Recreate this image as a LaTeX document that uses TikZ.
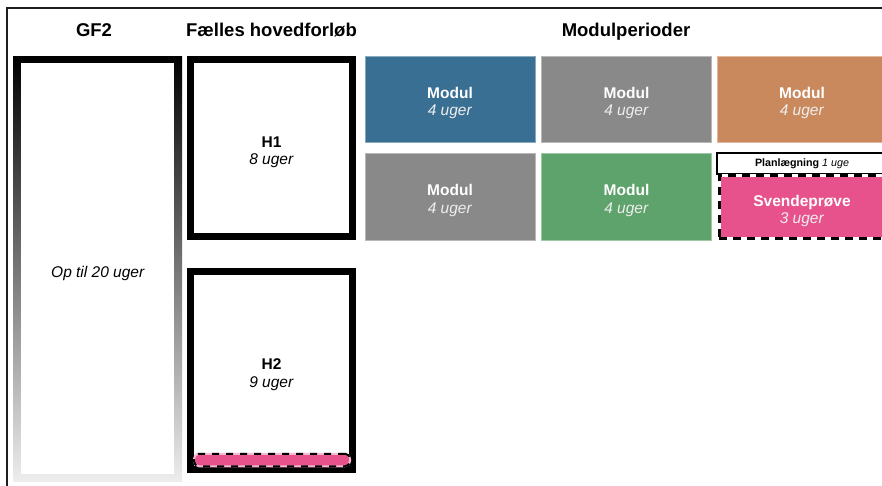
\documentclass[tikz,border=0pt]{standalone}
\usepackage{fontspec}
\setmainfont{Liberation Sans}

\definecolor{modblue}{HTML}{386F92}
\definecolor{modgray}{HTML}{898989}
\definecolor{modtan}{HTML}{C9895D}
\definecolor{modgreen}{HTML}{5EA36B}
\definecolor{svpink}{HTML}{E8528C}
\definecolor{framegray}{HTML}{1E1E1E}
\definecolor{softwhite}{HTML}{EEEEEE}

% taller first line, so the two-line labels sit a little lower in their boxes
\newcommand\boxpad{\rule{0pt}{19pt}}

\begin{document}
\begin{tikzpicture}[x=1pt,y=-1pt,
  every node/.style={inner sep=0pt, outer sep=0pt},
  title/.style={font=\fontsize{18.5}{22}\selectfont\bfseries, anchor=base},
  boxtext/.style={align=center, font=\fontsize{15.5}{17.5}\selectfont},
  modbox/.style={boxtext, text=white, minimum width=170pt, line width=0.8pt},
  heavybox/.style={boxtext, draw=black, line width=7pt, fill=white, minimum width=162pt},
  planbox/.style={draw=black, line width=1.3pt, fill=white, minimum width=170pt,
    minimum height=21pt, font=\fontsize{10.7}{12}\selectfont},
  exambox/.style={boxtext, text=white, fill=svpink, draw=white, line width=3pt,
    minimum width=166pt, minimum height=63pt,
    postaction={draw=black, line width=3pt, dash pattern=on 8pt off 6pt}},
  examstrip/.style={fill=svpink, draw=svpink!40!white, line width=2pt, rounded corners=5pt,
    minimum width=156pt, minimum height=12.5pt,
    postaction={draw=black, line width=2pt, dash pattern=on 7pt off 7pt, rounded corners=5pt}},
]
\clip (0,0) rectangle (882,485);
\fill[white] (0,0) rectangle (882,485);

% outer frame (top and left edges)
\draw[framegray, line width=1.6pt] (7,490) -- (7,8) -- (890,8);

% column headings
\node[title] (hgf) at (94,36) {GF2};
\node[title] (hfh) at (271.5,36) {Fælles hovedforløb};
\node[title] (hmp) at (626,36) {Modulperioder};

% GF2: border fading from black to white
\node[minimum width=169pt, minimum height=425pt, top color=black,
      bottom color=white!93!black] (gf2) at (97.5,268.5) {};
\node[fill=white, minimum width=153pt, minimum height=411pt] (gf2in) at (gf2.center) {};
\node[boxtext] (gf2txt) at (98,273.5) {\textit{Op til 20 uger}};

% common main course
\node[heavybox, minimum height=177pt] (h1) at (271.5,148) {\boxpad\textbf{H1}\\\textit{8 uger}};
\node[heavybox, minimum height=198pt] (h2) at (271.5,370.5) {\boxpad\textbf{H2}\\\textit{9 uger}};
\node[examstrip] (h2exam) at (272,460) {};

% module periods
\node[modbox, fill=modblue, draw=modblue!60!white, minimum height=86pt] (m1) at (450,99)
  {\boxpad\textbf{Modul}\\\textcolor{softwhite}{\textit{4 uger}}};
\node[modbox, fill=modgray, draw=modgray!60!white, minimum height=86pt] (m2) at (626.5,99)
  {\boxpad\textbf{Modul}\\\textcolor{softwhite}{\textit{4 uger}}};
\node[modbox, fill=modtan, draw=modtan!60!white, minimum height=86pt] (m3) at (802,99)
  {\boxpad\textbf{Modul}\\\textcolor{softwhite}{\textit{4 uger}}};
\node[modbox, fill=modgray, draw=modgray!60!white, minimum height=87pt] (m4) at (450,196.5)
  {\boxpad\textbf{Modul}\\\textcolor{softwhite}{\textit{4 uger}}};
\node[modbox, fill=modgreen, draw=modgreen!60!white, minimum height=87pt] (m5) at (626.5,196.5)
  {\boxpad\textbf{Modul}\\\textcolor{softwhite}{\textit{4 uger}}};

% planning week and final exam
\node[planbox] (plan) at (802,163.5) {\textbf{Planlægning} \textit{1 uge}};
\node[exambox] (exam) at (802,207) {\boxpad\textbf{Svendeprøve}\\\textcolor{softwhite}{\textit{3 uger}}};
\end{tikzpicture}
\end{document}
